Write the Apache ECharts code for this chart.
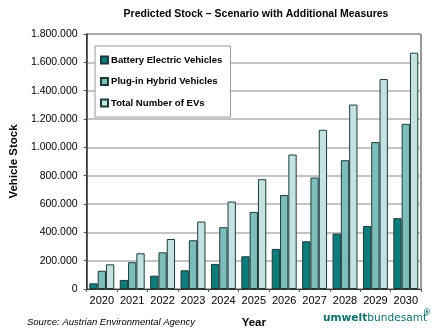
<!DOCTYPE html>
<html lang="en">
<head>
    <meta charset="UTF-8">
    <title>Predicted Stock</title>
    <script src="https://cdn.jsdelivr.net/npm/echarts@6/dist/echarts.min.js"></script>
    <style>
        html, body { margin: 0; padding: 0; background: #fff; }
    </style>
</head>
<body>
<div id="main" style="width: 432px;height:334px;"></div>
<script>
    var years = ['2020', '2021', '2022', '2023', '2024', '2025', '2026', '2027', '2028', '2029', '2030'];
    var bev = [40000, 64000, 94000, 132000, 177000, 231000, 283000, 337000, 391000, 445000, 500000];
    var phev = [129000, 189000, 259000, 344000, 436000, 544000, 663000, 787000, 909000, 1037000, 1166000];
    var total = [174000, 252000, 353000, 476000, 617000, 775000, 949000, 1124000, 1302000, 1482000, 1668000];

    var font = 'Liberation Sans, Arial, sans-serif';

    function dots(v) {
        return String(v).replace(/\B(?=(\d{3})+(?!\d))/g, '.');
    }

    var myChart = echarts.init(document.getElementById('main'));
    var option = {
        backgroundColor: '#fff',
        animation: false,
        title: [{
            text: 'Predicted Stock – Scenario with Additional Measures',
            left: 251, top: 4, textAlign: 'center',
            textStyle: {fontFamily: font, fontSize: 10.5, fontWeight: 'bold', color: '#000'}
        }],
        legend: {
            orient: 'vertical',
            left: 95, top: 46,
            padding: [9, 8, 9, 5],
            itemWidth: 7, itemHeight: 7,
            itemGap: 11.5,
            icon: 'rect',
            backgroundColor: '#fff',
            borderColor: '#999',
            borderWidth: 1,
            textStyle: {fontFamily: font, fontSize: 9.6, fontWeight: 'bold', color: '#000', padding: [0, 0, 0, -2]},
            data: ['Battery Electric Vehicles', 'Plug-in Hybrid Vehicles', 'Total Number of EVs']
        },
        grid: {
            left: 82, right: 11, top: 34, bottom: 45,
            show: true, borderColor: '#333', borderWidth: 1
        },
        xAxis: {
            type: 'category',
            data: years,
            name: 'Year',
            nameLocation: 'middle',
            nameGap: 28,
            nameTextStyle: {fontFamily: font, fontSize: 11.5, fontWeight: 'bold', color: '#000'},
            axisLine: {lineStyle: {color: '#333', width: 1}},
            axisTick: {show: true, length: 3, lineStyle: {color: '#555'}},
            axisLabel: {fontFamily: font, fontSize: 11, color: '#000', margin: 6, interval: 0}
        },
        yAxis: {
            type: 'value',
            min: 0, max: 1800000, interval: 200000,
            name: 'Vehicle Stock',
            nameLocation: 'middle',
            nameRotate: 90,
            nameGap: 58,
            nameTextStyle: {fontFamily: font, fontSize: 11.5, fontWeight: 'bold', color: '#000'},
            axisLine: {show: true, lineStyle: {color: '#333', width: 1.5}},
            axisTick: {show: true, length: 3, lineStyle: {color: '#555'}},
            axisLabel: {fontFamily: font, fontSize: 10.5, color: '#000', margin: 9, formatter: dots},
            splitLine: {lineStyle: {color: '#b0b0b0', width: 1.5}}
        },
        graphic: [{
            type: 'text', left: 27, top: 317,
            style: {text: 'Source: Austrian Environmental Agency', font: 'italic 9.5px ' + font, fill: '#000'}
        }, {
            type: 'text', left: 323, top: 313,
            style: {
                text: '{a|umwelt}{b|bundesamt}',
                rich: {
                    a: {fontFamily: 'DejaVu Sans', fontSize: 10.6, fontWeight: 'bold', fill: '#0e6f6c'},
                    b: {fontFamily: 'DejaVu Sans', fontSize: 10.6, fill: '#0e6f6c'}
                }
            }
        }, {
            type: 'text', left: 423, top: 309,
            style: {text: '®', font: 'bold 8px DejaVu Sans', fill: '#0e6f6c'}
        }],
        series: [{
            name: 'Battery Electric Vehicles',
            type: 'bar',
            data: bev,
            barGap: '0%',
            barCategoryGap: '18%',
            itemStyle: {color: '#0e7c7b', borderColor: '#1d3b3b', borderWidth: 1}
        }, {
            name: 'Plug-in Hybrid Vehicles',
            type: 'bar',
            data: phev,
            itemStyle: {color: '#7dbdbb', borderColor: '#1d3b3b', borderWidth: 1}
        }, {
            name: 'Total Number of EVs',
            type: 'bar',
            data: total,
            itemStyle: {color: '#c4e2e2', borderColor: '#1d3b3b', borderWidth: 1}
        }]
    };
    myChart.setOption(option);
</script>
</body>
</html>
